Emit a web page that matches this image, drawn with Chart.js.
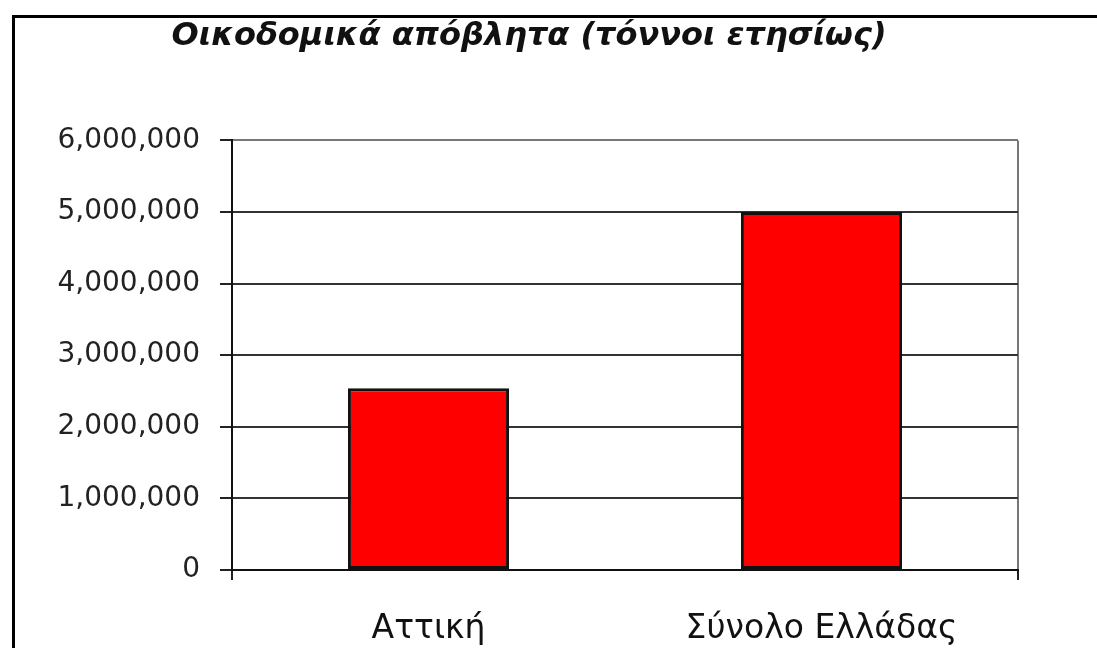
<!DOCTYPE html>
<html>
<head>
<meta charset="utf-8">
<script src="https://cdn.jsdelivr.net/npm/chart.js@4.4.0/dist/chart.umd.min.js"></script>
<style>
  body { margin: 0; background: #fff; }
  #frame { position: absolute; left: 12px; top: 15px; width: 1200px; height: 800px;
           border-left: 3px solid #000; border-top: 3px solid #000; }
  #grafico { position: absolute; left: 0; top: 0; }
</style>
</head>
<body>
<div id="frame"></div>
<canvas id="grafico" width="1097" height="648"></canvas>
<script>
// Datos del gráfico
const categorias = ['Αττική', 'Σύνολο Ελλάδας'];
const valores = [2540000, 5000000];
const ticksY = [0, 1000000, 2000000, 3000000, 4000000, 5000000, 6000000];
const titulo = 'Οικοδομικά απόβλητα (τόννοι ετησίως)';

const config = {
    type: 'bar',
    data: {
        labels: categorias,
        datasets: [{
            data: valores,
            backgroundColor: '#ff0000',
            borderColor: '#111',
            borderWidth: 3,
            borderSkipped: false,
            barPercentage: 0.41,
            categoryPercentage: 1
        }]
    },
    options: {
        responsive: false,
        animation: false,
        layout: { padding: { left: 40, right: 79, top: 0, bottom: 0 } },
        plugins: {
            legend: { display: false },
            tooltip: { enabled: false },
            title: {
                display: true,
                text: titulo,
                color: '#111',
                font: { family: 'DejaVu Sans', size: 32, weight: 'bold', style: 'italic' },
                padding: { top: 17, bottom: 85 }
            }
        },
        scales: {
            x: {
                offset: true,
                border: { display: true, color: '#111', width: 2 },
                grid: {
                    offset: true,
                    lineWidth: 2,
                    tickLength: 10,
                    // solo se dibuja el borde derecho (la última línea)
                    color: ctx => (ctx.index === 0 || ctx.index === 1) ? 'rgba(0,0,0,0)' : '#777',
                    tickColor: ctx => ctx.index === 1 ? 'rgba(0,0,0,0)' : '#222'
                },
                ticks: {
                    color: '#111',
                    padding: 30,
                    font: { family: 'DejaVu Sans', size: 33 }
                },
                afterFit: scale => { scale.height = 78; }
            },
            y: {
                min: 0,
                max: 6000000,
                border: { display: true, color: '#111', width: 2 },
                grid: {
                    lineWidth: 2,
                    tickLength: 12,
                    color: ctx => ctx.tick && ctx.tick.value === 6000000 ? '#777' : '#333',
                    tickColor: '#222'
                },
                afterBuildTicks: scale => { scale.ticks = ticksY.map(v => ({ value: v })); },
                ticks: {
                    color: '#222',
                    padding: 20,
                    font: { family: 'DejaVu Sans', size: 28 },
                    callback: v => v.toLocaleString('en-US')
                },
                afterFit: scale => { scale.width = 192; }
            }
        }
    }
};

new Chart(document.getElementById('grafico'), config);
</script>
</body>
</html>
